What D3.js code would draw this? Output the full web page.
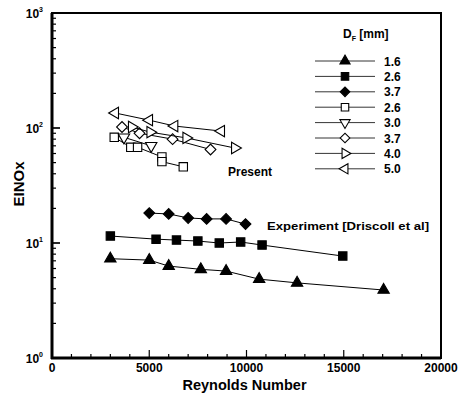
<!DOCTYPE html>
<html>
<head>
<meta charset="utf-8">
<script src="https://cdn.jsdelivr.net/npm/d3@7"></script>
<style>
  body { margin: 0; background: #fff; }
  svg { font-family: "Liberation Sans", Arial, sans-serif; font-weight: bold; }
</style>
</head>
<body>
<div id="chart"></div>
<script>
// data
const re16f = [3000, 5000, 6000, 7650, 8950, 10650, 12600, 17050];
const ei16f = [7.3, 7.1, 6.3, 5.9, 5.7, 4.85, 4.5, 3.9];
const re26f = [3000, 5350, 6400, 7500, 8600, 9700, 10800, 14950];
const ei26f = [11.5, 10.8, 10.6, 10.4, 10.0, 10.2, 9.6, 7.7];
const re37f = [5000, 6000, 7000, 7950, 8950, 9950];
const ei37f = [18.2, 17.9, 16.5, 16.2, 16.2, 14.6];
const re26o = [3200, 4050, 4400, 5650, 5650, 6750];
const ei26o = [83, 68, 68, 56, 51, 46];
const re30o = [3700, 5100];
const ei30o = [83, 70];
const re37o = [3600, 4500, 6200, 8150];
const ei37o = [102, 90, 80, 65];
const re40o = [4100, 5050, 6900, 9400];
const ei40o = [102, 92, 82, 67];
const re50o = [3250, 5000, 6300, 8700];
const ei50o = [135, 117, 104, 94];

const legendLabels = ["1.6", "2.6", "3.7", "2.6", "3.0", "3.7", "4.0", "5.0"];
const xTicks = [0, 5000, 10000, 15000, 20000];
const yTicks = [1, 10, 100, 1000];

const series = [
    {x: re16f, y: ei16f, shape: "triUp", fill: true},
    {x: re26f, y: ei26f, shape: "square", fill: true},
    {x: re37f, y: ei37f, shape: "diamond", fill: true},
    {x: re26o, y: ei26o, shape: "square", fill: false},
    {x: re30o, y: ei30o, shape: "triDown", fill: false},
    {x: re37o, y: ei37o, shape: "diamond", fill: false},
    {x: re40o, y: ei40o, shape: "triRight", fill: false},
    {x: re50o, y: ei50o, shape: "triLeft", fill: false}
];

const W = 465, H = 397;
const m = {left: 52, right: 441, top: 13, bottom: 358};

const svg = d3.select("#chart").append("svg")
    .attr("width", W).attr("height", H);

const x = d3.scaleLinear().domain([0, 20000]).range([m.left, m.right]);
const y = d3.scaleLog().domain([1, 1000]).range([m.bottom, m.top]);

// marker paths
const shapes = {
    triUp:    {type: d3.symbolTriangle, size: 56, rot: 0},
    triDown:  {type: d3.symbolTriangle, size: 56, rot: 180},
    triRight: {type: d3.symbolTriangle, size: 56, rot: 90},
    triLeft:  {type: d3.symbolTriangle, size: 56, rot: -90},
    square:   {type: d3.symbolSquare, size: 70, rot: 0},
    diamond:  {type: d3.symbolSquare, size: 58, rot: 45}
};
function marker(g, s, cx, cy, fill, scale) {
    let sh = shapes[s];
    g.append("path")
        .attr("d", d3.symbol().type(sh.type).size(sh.size * (scale || 1))())
        .attr("transform", `translate(${cx},${cy}) rotate(${sh.rot})`)
        .attr("fill", fill ? "#000" : "#fff")
        .attr("stroke", "#000")
        .attr("stroke-width", 1.1);
}

// ticks (inside)
const tk = svg.append("g").attr("stroke", "#000");
d3.range(0, 20001, 1000).forEach(function (v) {
    let len = v % 5000 === 0 ? 8 : 4;
    tk.append("line").attr("x1", x(v)).attr("x2", x(v))
        .attr("y1", m.bottom).attr("y2", m.bottom - len).attr("stroke-width", 1.2);
});
[1, 10, 100].forEach(function (d) {
    for (let k = 1; k <= 10; k++) {
        let v = d * k;
        let len = (k === 1 || k === 10) ? 8 : 4;
        tk.append("line").attr("x1", m.left).attr("x2", m.left + len)
            .attr("y1", y(v)).attr("y2", y(v)).attr("stroke-width", 1.2);
    }
});

// frame
svg.append("rect").attr("x", m.left).attr("y", m.top)
    .attr("width", m.right - m.left).attr("height", m.bottom - m.top)
    .attr("fill", "none").attr("stroke", "#000").attr("stroke-width", 2);
svg.append("line").attr("x1", m.left).attr("x2", m.left)
    .attr("y1", m.top).attr("y2", m.bottom + 1).attr("stroke", "#000").attr("stroke-width", 3);
svg.append("line").attr("x1", m.left - 1).attr("x2", m.right)
    .attr("y1", m.bottom).attr("y2", m.bottom).attr("stroke", "#000").attr("stroke-width", 3);

// tick labels
svg.append("g").selectAll("text").data(xTicks).enter().append("text")
    .attr("x", d => x(d)).attr("y", m.bottom + 14)
    .attr("text-anchor", "middle").attr("font-size", 12)
    .text(d => d);

const yl = svg.append("g").selectAll("text").data(yTicks).enter().append("text")
    .attr("x", m.left - 9).attr("y", d => y(d) + 5)
    .attr("text-anchor", "end").attr("font-size", 12);
yl.append("tspan").text("10");
yl.append("tspan").attr("font-size", 7).attr("dy", -6).text(d => Math.round(Math.log10(d)));

// axis titles
svg.append("text").attr("x", (m.left + m.right) / 2 - 2).attr("y", 390)
    .attr("text-anchor", "middle").attr("font-size", 14.5).text("Reynolds Number");
svg.append("text").attr("transform", "translate(24,184) rotate(-90)")
    .attr("text-anchor", "middle").attr("font-size", 15).text("EINOx");

// series
const line = d3.line().x(d => x(d[0])).y(d => y(d[1]));
series.forEach(function (s) {
    let pts = s.x.map((v, i) => [v, s.y[i]]);
    svg.append("path").attr("d", line(pts))
        .attr("fill", "none").attr("stroke", "#000").attr("stroke-width", 1);
    let g = svg.append("g");
    pts.forEach(p => marker(g, s.shape, x(p[0]), y(p[1]), s.fill));
});

// annotations
svg.append("text").attr("x", 228).attr("y", 176).attr("font-size", 12).text("Present");
svg.append("text").attr("x", 267).attr("y", 230).attr("font-size", 11.5)
    .attr("textLength", 162).attr("lengthAdjust", "spacingAndGlyphs")
    .text("Experiment [Driscoll et al]");

// legend
const lg = svg.append("g");
const t = lg.append("text").attr("x", 343).attr("y", 38).attr("font-size", 12);
t.append("tspan").text("D");
t.append("tspan").attr("font-size", 7).attr("dy", 3).text("F");
t.append("tspan").attr("dy", -3).text(" [mm]");
series.forEach(function (s, i) {
    let ly = 61 + i * 15.4;
    lg.append("line").attr("x1", 315).attr("x2", 375).attr("y1", ly).attr("y2", ly)
        .attr("stroke", "#000").attr("stroke-width", 0.8);
    marker(lg, s.shape, 345, ly, s.fill, 0.8);
    lg.append("text").attr("x", 384).attr("y", ly + 4.5).attr("font-size", 12)
        .text(legendLabels[i]);
});
</script>
</body>
</html>
